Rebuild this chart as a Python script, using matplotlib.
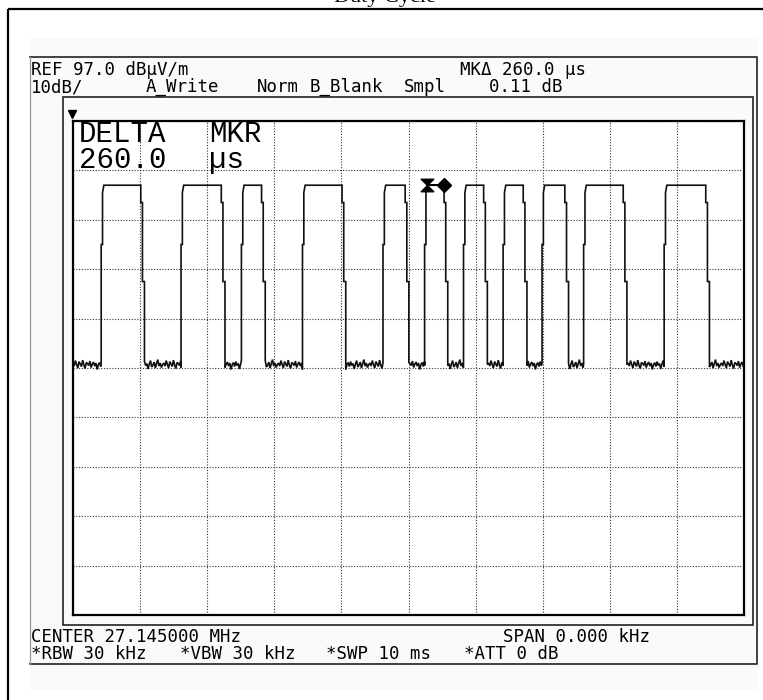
import numpy as np
import matplotlib
matplotlib.use("Agg")
import matplotlib.pyplot as plt
from matplotlib.patches import Rectangle
from matplotlib.path import Path

# trace data (time in ms, level in dBuV/m)
pulse_on = [0.42, 1.61, 2.51, 3.42, 4.62, 5.24, 5.82, 6.41, 6.99, 7.61, 8.81]
pulse_off = [1.01, 2.21, 2.81, 4.01, 4.95, 5.53, 6.12, 6.71, 7.33, 8.20, 9.43]
top_level = 84.0
floor_level = 47.6
floor_noise = [0.4, -0.2, 0.9, 0.1, -0.6, 0.7, 0.2, -0.3, 1.0, 0.0, -0.7, 0.5,
               0.3, -0.1, 0.8, -0.5, 0.2, 0.6, -0.2, 0.4, -0.9, 0.1, 0.5, -0.3,
               0.7, -0.1, 0.3, -0.8, 0.2, 0.9, -0.4, 0.0, 0.6, -0.6, 0.3, 1.1,
               -0.2, 0.4, -0.5, 0.1]
rise_edge = [(0.0, 72.0), (0.02, 72.0), (0.02, 82.5), (0.04, top_level)]
fall_edge = [(0.0, top_level), (0.0, 80.5), (0.025, 80.5), (0.025, 64.5),
             (0.055, 64.5)]
sample_dt = 0.018
sweep_ms = 10.0

mk1_time = 5.27
mk_delta = 0.26

ref_level = 97.0
db_per_div = 10.0

header_row1 = [("REF 97.0 dB\u00b5V/m", 31), ("MK\u0394 260.0 \u00b5s", 460)]
header_row2 = [("10dB/", 31), ("A_Write", 146), ("Norm", 257),
               ("B_Blank", 310), ("Smpl", 404), ("0.11 dB", 489)]
footer_row1 = [("CENTER 27.145000 MHz", 31), ("SPAN 0.000 kHz", 503)]
footer_row2 = [("*RBW 30 kHz", 31), ("*VBW 30 kHz", 180),
               ("*SWP 10 ms", 326), ("*ATT 0 dB", 464)]

# build trace
t_pts, v_pts = [], []
k = 0
start = 0.0
for on, off in zip(pulse_on, pulse_off):
    for t in np.arange(start, on, sample_dt):
        t_pts.append(t)
        v_pts.append(floor_level + floor_noise[k % len(floor_noise)])
        k += 1
    t_pts.append(on)
    v_pts.append(floor_level + floor_noise[k % len(floor_noise)])
    for dt, lv in rise_edge:
        t_pts.append(on + dt)
        v_pts.append(lv)
    for dt, lv in fall_edge:
        t_pts.append(off + dt)
        v_pts.append(lv)
    start = off + fall_edge[-1][0]
for t in np.arange(start, sweep_ms + 1e-9, sample_dt):
    t_pts.append(t)
    v_pts.append(floor_level + floor_noise[k % len(floor_noise)])
    k += 1

W, H = 763, 700
fig = plt.figure(figsize=(W / 100, H / 100), dpi=100)
fig.patch.set_facecolor("white")

bg = fig.add_axes([0, 0, 1, 1])
bg.set_xlim(0, W)
bg.set_ylim(H, 0)
bg.axis("off")

# outer border and title (title is cut by the top edge, as in the source)
bg.add_patch(Rectangle((8, 9), 800, 800, fill=False, lw=1.6, ec="black"))
bg.text(385, 2, "Duty Cycle", family="Liberation Serif", fontsize=16,
        ha="center", va="baseline", color="black")

# screenshot panel
bg.add_patch(Rectangle((30, 38), 728, 652, fc="#fafafa", ec="none"))
bg.plot([30, 757, 757, 30], [57, 57, 664, 664], color="#333", lw=1.3)
bg.plot([30, 30], [57, 664], color="#999", lw=0.9)
bg.add_patch(Rectangle((63, 97), 690, 528, fill=False, lw=1.2, ec="#222"))

# reference level marker
bg.plot([72], [114], marker="v", ms=6, color="black")

hdr = dict(family="DejaVu Sans Mono", fontsize=12.5, va="baseline", color="black")
for s, x in header_row1:
    bg.text(x, 75, s, **hdr)
for s, x in header_row2:
    bg.text(x, 92, s, **hdr)
for s, x in footer_row1:
    bg.text(x, 642, s, **hdr)
for s, x in footer_row2:
    bg.text(x, 659, s, **hdr)

# graticule
ax = fig.add_axes([73 / W, (H - 615) / H, 671 / W, 494 / H])
ax.set_facecolor("white")
ax.set_xlim(0, sweep_ms)
ax.set_ylim(ref_level - 10 * db_per_div, ref_level)
ax.set_xticks(np.arange(0, sweep_ms + 1, 1))
ax.set_yticks(np.arange(ref_level - 10 * db_per_div, ref_level + 1, db_per_div))
ax.tick_params(length=0, labelbottom=False, labelleft=False)
ax.grid(True, color="#333", lw=0.8, ls=(0, (1, 1.5)))
for sp in ax.spines.values():
    sp.set_linewidth(1.6)
    sp.set_color("black")

ax.plot(t_pts, v_pts, color="#111", lw=1.2, solid_joinstyle="miter")

# delta markers
hourglass = Path([(-1, 1), (1, 1), (-1, -1), (1, -1), (-1, 1)],
                 [Path.MOVETO, Path.LINETO, Path.LINETO, Path.LINETO, Path.CLOSEPOLY])
ax.plot([mk1_time], [top_level], marker=hourglass, ms=9, color="black")
ax.plot([mk1_time, mk1_time + mk_delta], [top_level, top_level], color="black", lw=1.4)
ax.plot([mk1_time + mk_delta], [top_level], marker="D", ms=7, color="black")

# delta marker readout, drawn above the graticule
mono = dict(family="Liberation Mono", fontsize=21, va="baseline", color="black",
            linespacing=0.9, transform=bg.transData)
fig.text(79, 168, "DELTA\n260.0", **mono)
fig.text(209, 168, "MKR\n\u00b5s", **mono)

fig.savefig("out.png", dpi=100)
